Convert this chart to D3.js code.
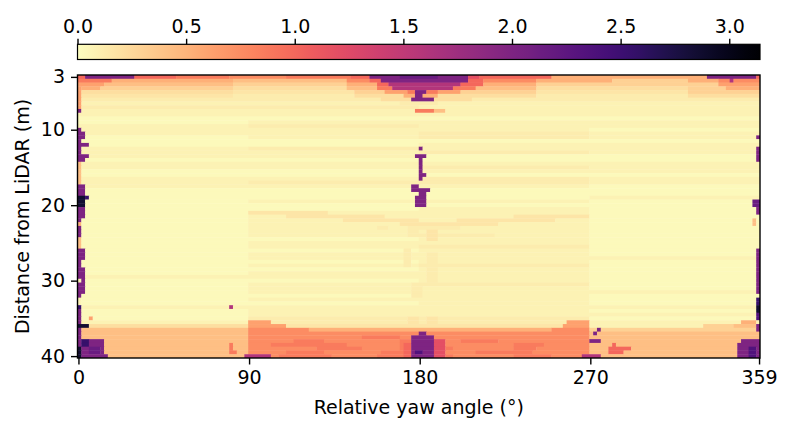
<!DOCTYPE html>
<html><head><meta charset="utf-8">
<script src="https://cdn.jsdelivr.net/npm/d3@7"></script>
<style>
body{margin:0;background:#fff;}
text{font-family:"DejaVu Sans",sans-serif;fill:#000;}
</style>
</head><body>
<svg id="chart" width="790" height="431"></svg>
<script>
// ---------------- data ----------------
const xTicks = [0, 90, 180, 270, 359];
const yTicks = [3, 10, 20, 30, 40];
const cbTicks = [0, 0.5, 1.0, 1.5, 2.0, 2.5, 3.0];
const cbMax = Math.PI;
const angleStep = 2;      // degrees per column (180 columns)
const distStart = 3;      // first row centre (m)
const distStep = 0.5;     // metres per row (75 rows, 3..40)
const levelKeys = "abcdefghijklmnopqrst";
const levelValues = [0.03,0.08,0.12,0.16,0.22,0.30,0.42,0.52,0.62,0.75,0.86,1.0,1.2,1.6,2.0,2.15,2.35,2.55,2.85,3.05];
// run-length rows: letter = level, number = count of 2-degree columns
const rowRuns = [
"l2 o13 l11 k14 j15 k17 l5 o8 p10 o8 m3 l19 h41 o13 l1",
"k9 h32 g30 j6 l3 o23 l4 j14 h20 f20 h8 j3 n1 j7",
"i7 g34 f30 h8 l3 n19 l6 h14 f48 i11",
"h6 f35 e30 g8 k4 n16 k6 g16 e40 f10 h9",
"e41 d32 f8 i6 k2 o3 k3 i6 f20 d40 f19",
"d41 c32 e13 h3 o2 h4 e26 c40 e19",
"c80 e8 o6 e10 c76",
"b85 c10 b85",
"c90 b90",
"b89 k5 g3 b83",
"b180",
"a180",
"a45 b135",
"b45 c45 b90",
"b135 a45",
"b90 c45 b45",
"a45 b45 c45 b45",
"a180",
"a90 b90",
"b45 c45 b90",
"b90 c45 b45",
"b90 a90",
"a180",
"b180",
"b90 c45 b45",
"a90 b90",
"a180",
"b90 c45 b45",
"b45 c90 b45",
"b135 a45",
"a180",
"a180",
"a135 b45",
"a45 b90 a45",
"a180",
"a90 b45 a45",
"a45 d21 b69 a45",
"a45 b10 d26 b34 d20 a45",
"a45 b25 d20 b10 d26 b9 a45",
"a45 b40 d26 b24 a45",
"a45 b45 c11 b34 a45",
"a45 b90 a45",
"a45 b45 c20 b25 a45",
"a90 b45 a45",
"a45 b90 a45",
"a45 b45 c45 a45",
"a90 b45 a45",
"a45 b90 a45",
"a45 b135",
"a90 b45 a45",
"a45 b45 c45 a45",
"a90 b45 a45",
"a45 b90 a45",
"b135 a45",
"a90 b45 a45",
"a45 b45 c45 a45",
"a45 b90 a45",
"a45 b135",
"a90 b45 a45",
"a45 b90 a45",
"a90 b45 a45",
"b180",
"a45 b90 a45",
"a45 b135",
"a45 c90 a45",
"b45 i6 c78 i6 b45",
"e45 i10 d73 i7 b30 f8 g7",
"g45 j16 h64 j10 f45",
"g45 j90 g45",
"g45 j30 k10 j50 g45",
"g45 j12 k8 j20 k6 j10 k10 j24 g45",
"g45 j6 k20 j14 k10 j20 k8 j12 g45",
"g45 j18 k12 j10 k14 j16 k6 j14 g45",
"g45 j10 k10 j15 k15 j10 k15 j15 g45",
"g45 j8 k14 j12 k20 j16 k10 j10 g45"
];
// local features: [firstCol, lastCol, firstRow, lastRow, level]
const patches = [
[0,0,2,8,'i'],[0,0,9,9,'o'],[0,0,14,22,'o'],[1,1,15,16,'o'],[1,1,18,18,'o'],[2,2,18,18,'o'],
[1,1,21,22,'o'],[2,2,21,21,'o'],[0,0,23,28,'g'],[0,1,29,37,'o'],[0,1,32,34,'s'],[2,2,32,32,'r'],
[0,0,38,42,'o'],[0,0,39,39,'h'],[0,0,43,45,'g'],[0,0,46,65,'o'],[1,1,46,48,'o'],[1,1,51,57,'o'],
[0,0,54,54,'b'],[0,0,59,60,'b'],[0,0,61,61,'r'],[3,3,64,64,'i'],[0,2,66,66,'s'],[0,0,67,69,'o'],
[0,6,70,74,'o'],[7,7,74,74,'o'],[1,2,70,71,'r'],[0,0,72,74,'s'],[3,5,72,73,'p'],
[179,179,16,16,'o'],[179,179,19,22,'o'],[178,179,33,34,'p'],[179,179,35,36,'o'],[178,178,38,39,'g'],
[179,179,46,57,'o'],[179,179,59,60,'r'],[179,179,61,62,'s'],[179,179,63,64,'q'],[179,179,66,67,'o'],[175,178,65,65,'h'],
[175,179,70,70,'o'],[174,179,71,74,'o'],[177,178,72,74,'q'],
[90,90,19,19,'o'],[89,91,21,21,'o'],[90,90,22,27,'o'],[91,91,26,26,'o'],[88,89,29,29,'o'],
[88,92,30,30,'o'],[90,91,31,31,'o'],[89,91,32,34,'o'],
[79,81,40,40,'c'],[87,89,40,42,'c'],[92,94,41,43,'d'],[86,87,46,50,'c'],[92,94,47,54,'c'],
[88,90,55,58,'c'],[92,94,64,65,'d'],[87,89,64,65,'d'],
[90,91,68,68,'o'],[88,93,69,74,'o'],[89,90,73,73,'q'],[94,96,70,74,'m'],[86,87,71,74,'l'],
[40,40,61,61,'n'],[40,40,71,72,'k'],[40,41,73,73,'k'],[44,50,74,74,'n'],
[137,137,67,67,'o'],[136,136,68,68,'o'],[135,137,70,70,'o'],[133,137,74,74,'n'],
[140,145,72,72,'l'],[141,141,71,73,'l'],[140,143,73,73,'l']
];

// ---------------- build grid ----------------
const nCols = 180;
const grid = rowRuns.map(r => {
  const row = [];
  r.trim().split(/\s+/).forEach(tok => {
    const ch = tok[0], n = +tok.slice(1);
    for (let i = 0; i < n; i++) row.push(ch);
  });
  while (row.length < nCols) row.push(row[row.length - 1]);
  return row.slice(0, nCols);
});
patches.forEach(([c0, c1, r0, r1, ch]) => {
  for (let r = r0; r <= r1; r++) for (let c = c0; c <= c1; c++) if (grid[r]) grid[r][c] = ch;
});
const cells = [];
grid.forEach((row, k) => {
  let start = 0;
  for (let j = 1; j <= nCols; j++) {
    if (j === nCols || row[j] !== row[start]) {
      cells.push({k, j0: start, n: j - start, v: levelValues[levelKeys.indexOf(row[start])]});
      start = j;
    }
  }
});

// ---------------- draw ----------------
const svg = d3.select("#chart");
const pL = 77.5, pR = 760, pT = 75, pB = 358;
const x = d3.scaleLinear().domain([-0.5, 359.5]).range([pL, pR]);
const y = d3.scaleLinear().domain([distStart - distStep / 2, distStart + distStep * (rowRuns.length - 0.5)]).range([pT, pB]);
const color = v => d3.interpolateMagma(1 - Math.min(v, cbMax) / cbMax);

svg.append("clipPath").attr("id", "plotclip").append("rect")
  .attr("x", pL).attr("y", pT).attr("width", pR - pL).attr("height", pB - pT);

const g = svg.append("g").attr("clip-path", "url(#plotclip)");
g.selectAll("rect").data(cells).join("rect")
  .attr("x", d => x(d.j0 * angleStep - 0.5))
  .attr("width", d => x((d.j0 + d.n) * angleStep - 0.5) - x(d.j0 * angleStep - 0.5) + 0.4)
  .attr("y", d => y(distStart + d.k * distStep - distStep / 2))
  .attr("height", d => y(distStart + distStep) - y(distStart) + 0.4)
  .attr("fill", d => color(d.v));

// frame
svg.append("rect").attr("x", pL).attr("y", pT).attr("width", pR - pL).attr("height", pB - pT)
  .attr("fill", "none").attr("stroke", "#000").attr("stroke-width", 1.4);

const fs = "19px";
// x axis
const xa = svg.append("g").attr("transform", `translate(0,${pB})`)
  .call(d3.axisBottom(x).tickValues(xTicks).tickSize(6.5).tickPadding(6).tickFormat(d3.format("d")));
xa.select(".domain").remove();
xa.selectAll("line").attr("stroke", "#000").attr("stroke-width", 1.4);
xa.selectAll("text").attr("font-size", fs).attr("font-family", "DejaVu Sans").attr("fill", "#000");
// y axis
const ya = svg.append("g").attr("transform", `translate(${pL},0)`)
  .call(d3.axisLeft(y).tickValues(yTicks).tickSize(6.5).tickPadding(6).tickFormat(d3.format("d")));
ya.select(".domain").remove();
ya.selectAll("line").attr("stroke", "#000").attr("stroke-width", 1.4);
ya.selectAll("text").attr("font-size", fs).attr("font-family", "DejaVu Sans").attr("fill", "#000");

svg.append("text").attr("x", (pL + pR) / 2).attr("y", 414).attr("text-anchor", "middle")
  .attr("font-size", fs).text("Relative yaw angle (°)");
svg.append("text").attr("transform", `translate(29,${(pT + pB) / 2}) rotate(-90)`)
  .attr("text-anchor", "middle").attr("font-size", fs).text("Distance from LiDAR (m)");

// colorbar
const cbTop = 44.3, cbBottom = 59.5;
const cx = d3.scaleLinear().domain([0, cbMax]).range([pL, pR]);
const grad = svg.append("defs").append("linearGradient").attr("id", "cbgrad");
d3.range(0, 1.0001, 0.02).forEach(t => {
  grad.append("stop").attr("offset", t).attr("stop-color", color(t * cbMax));
});
svg.append("rect").attr("x", pL).attr("y", cbTop).attr("width", pR - pL).attr("height", cbBottom - cbTop)
  .attr("fill", "url(#cbgrad)").attr("stroke", "#000").attr("stroke-width", 1.2);
const ca = svg.append("g").attr("transform", `translate(0,${cbTop})`)
  .call(d3.axisTop(cx).tickValues(cbTicks).tickSize(5.5).tickPadding(6).tickFormat(d3.format(".1f")));
ca.select(".domain").remove();
ca.selectAll("line").attr("stroke", "#000").attr("stroke-width", 1.4);
ca.selectAll("text").attr("font-size", fs).attr("font-family", "DejaVu Sans").attr("fill", "#000");
</script>
</body></html>
